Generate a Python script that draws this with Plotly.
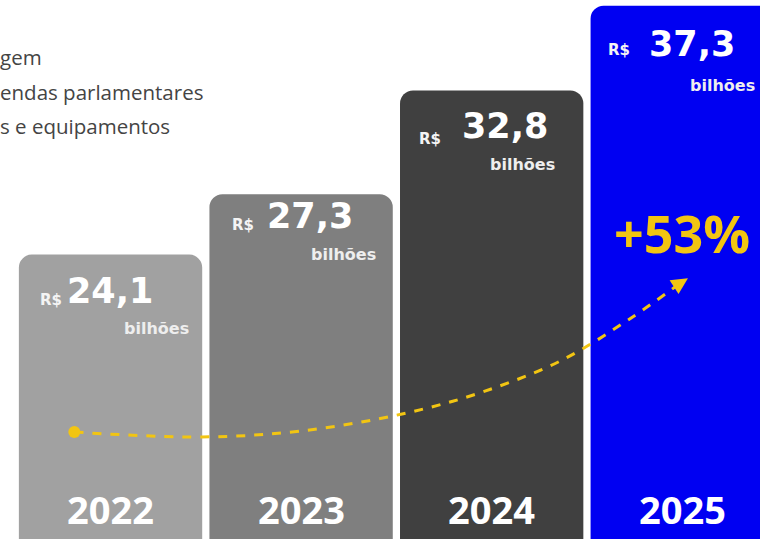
import plotly.graph_objects as go

# data
years = ['2022', '2023', '2024', '2025']
valores = [24.1, 27.3, 32.8, 37.3]
valor_txt = ['24,1', '27,3', '32,8', '37,3']
cores = ['#a1a1a1', '#7f7f7f', '#404040', '#0000f2']
crescimento = '+53%'
itens = ['gem', 'endas parlamentares', 's e equipamentos']

# trend curve (bar index, value units)
curva_x = [-0.19, 0.48, 1.0, 1.53, 1.95, 2.37, 2.73, 2.99]
curva_y = [14.69, 14.43, 14.75, 15.65, 16.81, 18.51, 20.73, 22.59]

AMARELO = '#f2c512'
idx = list(range(len(years)))

fig = go.Figure()
fig.add_trace(go.Bar(x=idx, y=valores, width=0.962,
                     marker=dict(color=cores, cornerradius=13, line=dict(width=0)),
                     hoverinfo='skip'))

fig.add_trace(go.Scatter(x=curva_x, y=curva_y, mode='lines',
                         line=dict(color=AMARELO, width=3, dash='dash', shape='spline'),
                         hoverinfo='skip'))
fig.add_trace(go.Scatter(x=curva_x[:1], y=curva_y[:1], mode='markers',
                         marker=dict(color=AMARELO, size=12), hoverinfo='skip'))

ann = []
# arrow head at end of curve
ann.append(dict(x=3.03, y=22.85, ax=curva_x[-1], ay=curva_y[-1], xref='x', yref='y',
                axref='x', ayref='y', text='', showarrow=True, arrowhead=2,
                arrowsize=1.1, arrowwidth=3, arrowcolor=AMARELO))

# label offsets (px)
rs_dx = [-73, -71, -75, -76]
rs_dy = [45, 31, 48, 44]
num_dx = [-46, -36, -32, -35]
num_dy = [36, 22, 35, 38]
bil_dx = [80, 77, 65, 75]
bil_dy = [74, 60, 74, 80]

num_font = 'DejaVu Sans'
for i, v in enumerate(valores):
    ann.append(dict(x=i, y=v, xref='x', yref='y', text='<b>R$</b>', showarrow=False,
                    xanchor='left', yanchor='middle', xshift=rs_dx[i], yshift=-rs_dy[i],
                    font=dict(family=num_font, size=15, color='#f4f4f4')))
    ann.append(dict(x=i, y=v, xref='x', yref='y', text='<b>' + valor_txt[i] + '</b>',
                    showarrow=False, xanchor='left', yanchor='middle',
                    xshift=num_dx[i], yshift=-num_dy[i],
                    font=dict(family=num_font, size=35, color='white')))
    ann.append(dict(x=i, y=v, xref='x', yref='y', text='<b>bilhões</b>', showarrow=False,
                    xanchor='right', yanchor='middle', xshift=bil_dx[i], yshift=-bil_dy[i],
                    font=dict(family=num_font, size=16, color='#eeeeee')))
    ann.append(dict(x=i, y=0.056, xref='x', yref='paper', text='<b>' + years[i] + '</b>',
                    showarrow=False, xanchor='center', yanchor='middle',
                    font=dict(family='Open Sans', size=38, color='white')))

ann.append(dict(x=3, y=0.568, xref='x', yref='paper', text='<b>' + crescimento + '</b>',
                showarrow=False, xanchor='center', yanchor='middle',
                font=dict(family='Open Sans', size=52, color=AMARELO)))

for k, t in enumerate(itens):
    ann.append(dict(x=0, y=[0.894, 0.829, 0.766][k], xref='paper', yref='paper', text=t,
                    showarrow=False, xanchor='left', yanchor='middle', xshift=-2,
                    font=dict(family='Open Sans', size=20.5, color='#444444')))

fig.update_layout(
    width=760, height=539,
    margin=dict(l=0, r=0, t=0, b=0),
    paper_bgcolor='white', plot_bgcolor='white',
    showlegend=False,
    xaxis=dict(range=[-0.58, 3.408], visible=False, fixedrange=True),
    yaxis=dict(range=[9.02, 37.6], visible=False, fixedrange=True),
    annotations=ann,
)

fig.write_html('out.html', config={'displayModeBar': False},
               post_script="document.body.style.margin='0';document.body.style.overflow='hidden';")
